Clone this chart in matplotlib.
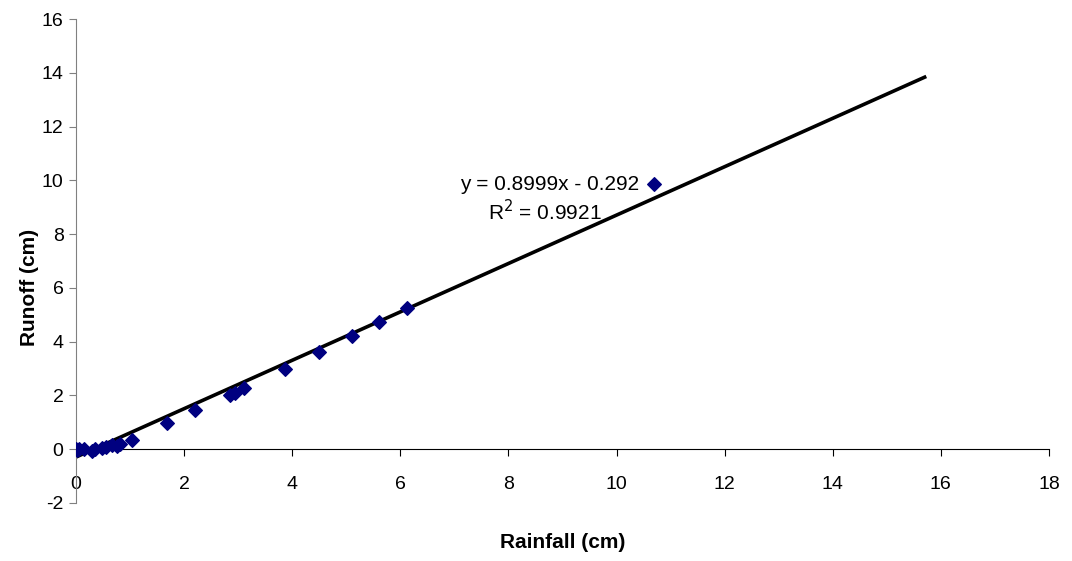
"""Rainfall vs runoff scatter with linear trend line."""

import matplotlib.pyplot as plt

plt.rcParams["font.family"] = ["Liberation Sans", "DejaVu Sans"]
plt.rcParams["axes.unicode_minus"] = False

RAINFALL = [0.0, 0.02, 0.05, 0.15, 0.3, 0.35, 0.48, 0.55, 0.67, 0.75, 0.81,
            1.03, 1.68, 2.2, 2.85, 2.95, 3.1, 3.87, 4.5, 5.1, 5.6, 6.12, 10.7]
RUNOFF = [0.0, -0.02, 0.02, 0.0, -0.05, 0.02, 0.05, 0.1, 0.15, 0.12, 0.2,
          0.35, 0.98, 1.44, 2.0, 2.1, 2.26, 3.0, 3.62, 4.2, 4.72, 5.25, 9.85]

SLOPE = 0.8999
INTERCEPT = -0.292
TREND_X = [0.0, 15.7]
EQUATION = "y = 0.8999x - 0.292"
R_SQUARED = "R$^2$ = 0.9921"


def main() -> None:
    fig = plt.figure(figsize=(10.72, 5.61), dpi=100)
    ax = fig.add_axes([0.0709, 0.1034, 0.9076, 0.8627])

    trend_y = [SLOPE * x + INTERCEPT for x in TREND_X]
    ax.plot(TREND_X, trend_y, color="black", linewidth=2.6, zorder=2)
    ax.scatter(RAINFALL, RUNOFF, marker="D", s=48, color="#000080",
               edgecolors="#000080", zorder=3)

    ax.text(10.42, 9.85, EQUATION, ha="right", va="center", fontsize=15)
    ax.text(8.67, 8.85, R_SQUARED, ha="center", va="center", fontsize=15)

    ax.set_xlim(0, 18)
    ax.set_ylim(-2, 16)
    ax.set_xticks(range(0, 19, 2))
    ax.set_yticks(range(-2, 17, 2))

    ax.spines["top"].set_visible(False)
    ax.spines["right"].set_visible(False)
    ax.spines["bottom"].set_position(("data", 0))
    ax.spines["left"].set_color("#808080")
    ax.spines["bottom"].set_color("black")
    ax.tick_params(axis="x", direction="out", length=5, pad=14, labelsize=14)
    ax.tick_params(axis="y", direction="out", length=5, pad=4, labelsize=14,
                   color="#808080")

    ax.set_xlabel("Rainfall (cm)", fontsize=15, fontweight="bold")
    ax.xaxis.set_label_coords(0.5, -0.063)
    ax.set_ylabel("Runoff (cm)", fontsize=15, fontweight="bold")
    ax.yaxis.set_label_coords(-0.038, 0.446)

    fig.savefig("out.png", dpi=100)


if __name__ == "__main__":
    main()
